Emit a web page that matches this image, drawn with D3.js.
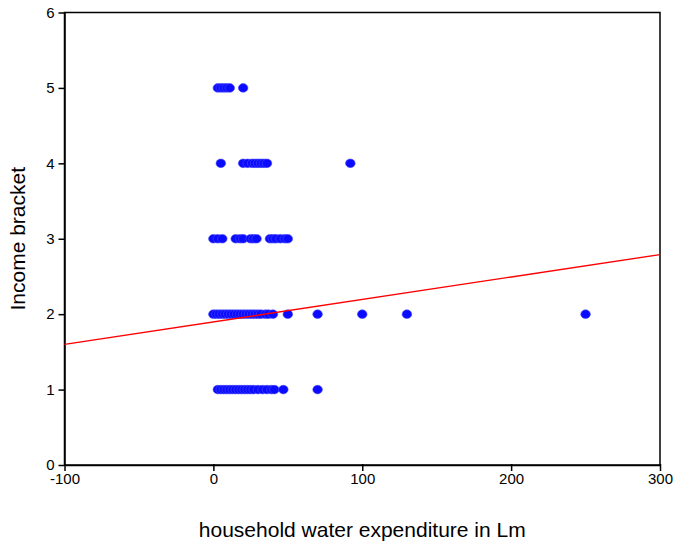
<!DOCTYPE html>
<html>
<head>
<meta charset="utf-8">
<script src="https://cdn.jsdelivr.net/npm/d3@7"></script>
<style>
  body { margin: 0; background: #fff; }
  text { font-family: "Liberation Sans", Arial, sans-serif; }
</style>
</head>
<body>
<div id="chart"></div>
<script>
// expenditure (Lm) readings for each income bracket
const bracket1 = [3, 5, 7, 9, 11, 13, 15, 17, 19, 21, 23, 25, 27, 30, 33, 36, 39, 41, 47, 70];
const bracket2 = [0, 2, 4, 6, 8, 10, 12, 14, 16, 18, 20, 22, 24, 26, 28, 30, 32, 35, 37, 40, 50, 70, 100, 130, 250];
const bracket3 = [0, 3, 6, 15, 18, 20, 25, 27, 29, 38, 40, 42, 45, 48, 50];
const bracket4 = [5, 20, 23, 26, 28, 30, 32, 34, 36, 92];
const bracket5 = [3, 5, 7, 9, 11, 20];

// fit line
const fitX = [-100, 300];
const fitY = [1.60, 2.79];

const xTicks = [-100, 0, 100, 200, 300];
const yTicks = [0, 1, 2, 3, 4, 5, 6];

const width = 674, height = 545;
const margin = { left: 64.5, right: 14, top: 12.5, bottom: 80 };

const svg = d3.select("#chart").append("svg")
  .attr("width", width)
  .attr("height", height);

const x = d3.scaleLinear().domain([-100, 300]).range([margin.left, width - margin.right]);
const y = d3.scaleLinear().domain([0, 6]).range([height - margin.bottom, margin.top]);

// frame
svg.append("rect")
  .attr("x", x(-100)).attr("y", y(6))
  .attr("width", x(300) - x(-100)).attr("height", y(0) - y(6))
  .attr("fill", "none").attr("stroke", "#000").attr("stroke-width", 1.5);

// axes (plain hyphen for negatives, like the original)
const fmt = d => String(d);
const xAxis = svg.append("g")
  .attr("transform", `translate(0,${y(0)})`)
  .call(d3.axisBottom(x).tickValues(xTicks).tickSize(6).tickSizeOuter(0).tickFormat(fmt));
const yAxis = svg.append("g")
  .attr("transform", `translate(${x(-100)},0)`)
  .call(d3.axisLeft(y).tickValues(yTicks).tickSize(6).tickSizeOuter(0).tickFormat(fmt));

[xAxis, yAxis].forEach(a => {
  a.select(".domain").attr("stroke-width", 1.5);
  a.selectAll(".tick line").attr("stroke-width", 1.5);
  a.selectAll("text").attr("font-size", 15).attr("fill", "#000")
    .style("font-family", "'Liberation Sans', Arial, sans-serif");
});
xAxis.selectAll(".tick line").attr("y1", -1);
xAxis.selectAll("text").attr("dy", "0.75em").attr("y", 8);
yAxis.selectAll("text").attr("x", -10);

// points
const points = [];
[bracket1, bracket2, bracket3, bracket4, bracket5].forEach((vals, i) => {
  vals.forEach(v => points.push({ x: v, y: i + 1 }));
});

svg.append("g").selectAll("ellipse")
  .data(points)
  .enter().append("ellipse")
  .attr("cx", d => x(d.x))
  .attr("cy", d => y(d.y))
  .attr("rx", 4.8)
  .attr("ry", 4.3)
  .attr("fill", "#0a0aff")
  .attr("stroke", "#4a4aff")
  .attr("stroke-width", 0.6);

// fit line
svg.append("line")
  .attr("x1", x(fitX[0])).attr("y1", y(fitY[0]))
  .attr("x2", x(fitX[1])).attr("y2", y(fitY[1]))
  .attr("stroke", "#ff0000").attr("stroke-width", 1.3);

// axis titles
svg.append("text")
  .attr("x", (x(-100) + x(300)) / 2)
  .attr("y", 537)
  .attr("text-anchor", "middle")
  .attr("font-size", 21)
  .text("household water expenditure in Lm");

svg.append("text")
  .attr("transform", `translate(25,${(y(0) + y(6)) / 2}) rotate(-90)`)
  .attr("text-anchor", "middle")
  .attr("font-size", 21)
  .text("Income bracket");
</script>
</body>
</html>
